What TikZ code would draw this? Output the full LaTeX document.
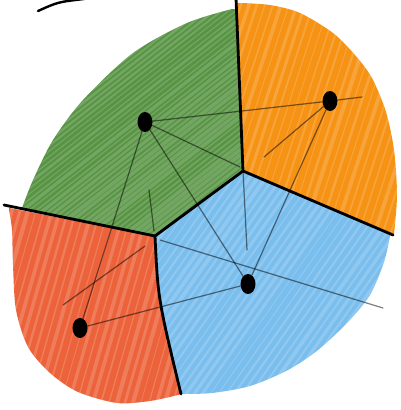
\documentclass[tikz,border=0pt]{standalone}
\usepackage{xcolor}
\usepackage{tikz}
\usetikzlibrary{shapes.geometric}
\definecolor{leafgreen}{RGB}{88,148,68}
\definecolor{sunorange}{RGB}{246,146,20}
\definecolor{brickred}{RGB}{236,98,58}
\definecolor{skyblue}{RGB}{122,190,238}
% outlines of the four cells
\newcommand{\greencell}{(155,236) -- (22,208) -- plot[smooth] coordinates {(22,208) (33,180) (53,140) (83,100) (133,53) (187,23) (232,9)} -- (238,9) -- (243,171) -- cycle}
\newcommand{\orangecell}{(243,171) -- (237,3) -- plot[smooth] coordinates {(240,3) (270,5) (300,13) (333,33) (355,55) (372,78) (386,112) (394,150) (397,195) (394,234)} -- cycle}
\newcommand{\bluecell}{(243,171) -- (390,235) -- plot[smooth] coordinates {(390,236) (384,262) (370,295) (348,322) (318,350) (288,370) (250,386) (212,393) (182,394)} -- (181,394) .. controls (158,299) .. (155,236) -- cycle}
\newcommand{\redcell}{(155,236) -- (9,208) -- plot[smooth] coordinates {(9,210) (12,230) (13,265) (16,310) (28,347) (50,373) (78,392) (117,403) (150,401) (178,395)} -- (181,394) .. controls (158,299) .. (155,236) -- cycle}

\begin{document}
\begin{tikzpicture}[x=1pt, y=-1pt,
		border/.style={line width=2.8pt, black, line cap=round},
		edge/.style={line width=1.2pt, black, opacity=0.5, line cap=round},
		streak/.style={white, opacity=0.17},
		site/.style={ellipse, fill=black, inner sep=0pt, minimum width=15pt, minimum height=20pt}]
		\useasboundingbox (0,0) rectangle (401,410);
		\pgfmathsetseed{7}
		% Voronoi vertices and free ends of the borders
		\coordinate (vtop) at (243,171);
		\coordinate (vmid) at (155,236);
		\coordinate (ntop) at (236,-2);
		\coordinate (nright) at (393,235);
		\coordinate (nleft) at (4,205);
		\coordinate (nbot) at (181,394);
		% Coloured cells, with pencil streaks
		\fill[leafgreen] \greencell;
		\fill[sunorange] \orangecell;
		\fill[skyblue] \bluecell;
		\fill[brickred] \redcell;
		\begin{scope}
			\clip \greencell;
			\foreach \i in {-400,-393,...,260} {
				\pgfmathsetmacro\w{0.8+3*rnd}
				\draw[streak, line width=\w pt] (\i,420) -- ++(-38:700);
			}
		\end{scope}
		\begin{scope}
			\clip \orangecell;
			\foreach \i in {150,158,...,400} {
				\pgfmathsetmacro\w{0.8+3.5*rnd}
				\draw[streak, line width=\w pt] (\i,260) -- ++(-72:300);
			}
		\end{scope}
		\begin{scope}
			\clip \bluecell;
			\foreach \i in {-40,-32,...,400} {
				\pgfmathsetmacro\w{0.8+3.5*rnd}
				\draw[streak, line width=\w pt] (\i,420) -- ++(-55:320);
			}
		\end{scope}
		\begin{scope}
			\clip \redcell;
			\foreach \i in {-80,-72,...,190} {
				\pgfmathsetmacro\w{0.8+3.5*rnd}
				\draw[streak, line width=\w pt] (\i,420) -- ++(-74:260);
			}
		\end{scope}
		% Sites
		\node[site] (g) at (145,122) {};
		\node[site] (o) at (330,101) {};
		\node[site] (b) at (248,284) {};
		\node[site] (r) at (80,328) {};
		% Pencil construction lines
		\coordinate (oext) at (362,97);
		\coordinate (oleft) at (264,157);
		\coordinate (gright) at (240,167);
		\coordinate (glow1) at (149,190);
		\coordinate (glow2) at (154,231);
		\coordinate (rcut1) at (63,305);
		\coordinate (rcut2) at (145,246);
		\coordinate (bdown) at (247,250);
		\coordinate (bcut1) at (160,240);
		\coordinate (bcut2) at (383,308);
		\draw[edge] (g) -- (o) -- (oext);
		\draw[edge] (g) -- (r);
		\draw[edge] (g) -- (b);
		\draw[edge] (o) -- (b);
		\draw[edge] (r) -- (b);
		\draw[edge] (o) -- (oleft);
		\draw[edge] (g) -- (gright);
		\draw[edge] (glow1) -- (glow2);
		\draw[edge] (rcut1) -- (rcut2);
		\draw[edge] (vtop) -- (bdown);
		\draw[edge] (bcut1) -- (bcut2);
		% Borders
		\draw[border] (ntop) -- (vtop) -- (nright);
		\draw[border] (vtop) -- (vmid);
		\draw[border] (nleft) -- (vmid) .. controls (158,299) .. (nbot);
		% Stray stroke at the top
		\draw[line width=2.4pt, line cap=round] (38,11) .. controls (58,2) .. (84,-1);
	\end{tikzpicture}
\end{document}
